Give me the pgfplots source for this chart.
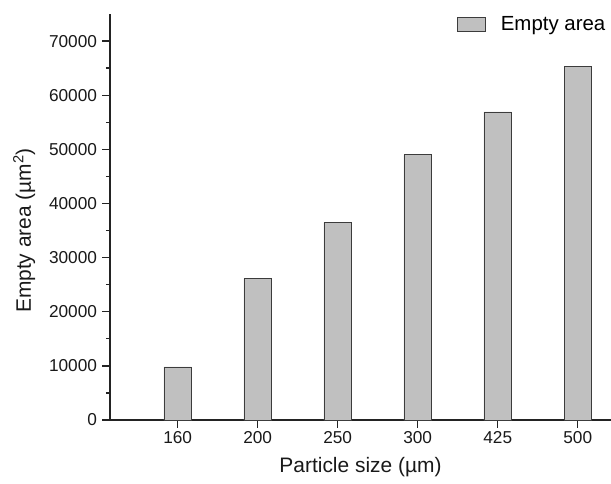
\documentclass[border=0pt]{standalone}
\usepackage{fontspec}
\setmainfont{Liberation Sans}
\usepackage{pgfplots}
\pgfplotsset{compat=1.18}
\definecolor{barfill}{RGB}{192,192,192}
\definecolor{baredge}{RGB}{60,60,60}
\definecolor{axisink}{RGB}{35,35,35}
% legend swatch: a filled box followed by a gap before the text
\pgfplotsset{boxlegend/.style={legend image code/.code={%
  \draw[##1] (0bp,-7bp) rectangle (28bp,7bp);
  \path (41bp,0bp);}}}

\begin{document}
\begin{tikzpicture}
\useasboundingbox (-110bp,-64bp) rectangle (501bp,420bp);
\begin{axis}[
  at={(0,0)}, anchor=south west,
  scale only axis, width=501bp, height=406bp,
  axis lines=left,
  axis line style={-, line width=1.3bp, color=axisink},
  xmin=-0.846, xmax=5.416, ymin=0, ymax=75000,
  xtick={0,...,5}, xticklabels={160,200,250,300,425,500},
  ytick={0,10000,...,70000}, minor ytick={5000,15000,...,65000},
  tick align=outside, major tick length=7.5bp, minor tick length=4bp,
  tick style={line width=1.3bp, color=axisink},
  scaled y ticks=false,
  /pgf/number format/1000 sep={},
  /pgf/number format/assume math mode=true,
  tick label style={font=\fontsize{17.3}{20}\selectfont, color=black!90},
  yticklabel style={xshift=-2bp},
  xlabel={Particle size (µm)},
  ylabel={Empty area (µm\textsuperscript{2})},
  label style={font=\fontsize{21}{24}\selectfont, color=black!90},
  xlabel style={at={(ticklabel cs:0.5,7bp)}},
  ylabel style={at={(ticklabel cs:0.4667,7bp)}},
  ybar, bar width=0.343,
  legend style={draw=none, fill=none, at={(rel axis cs:0.993,1.0)}, anchor=north east,
    font=\fontsize{20.5}{24}\selectfont, inner sep=0pt, legend cell align=left},
]
\addplot[fill=barfill, draw=baredge, line width=0.9bp, boxlegend]
  coordinates {(0,9800) (1,26100) (2,36500) (3,49000) (4,56900) (5,65300)};
\addlegendentry{Empty area}
\end{axis}
\end{tikzpicture}
\end{document}
